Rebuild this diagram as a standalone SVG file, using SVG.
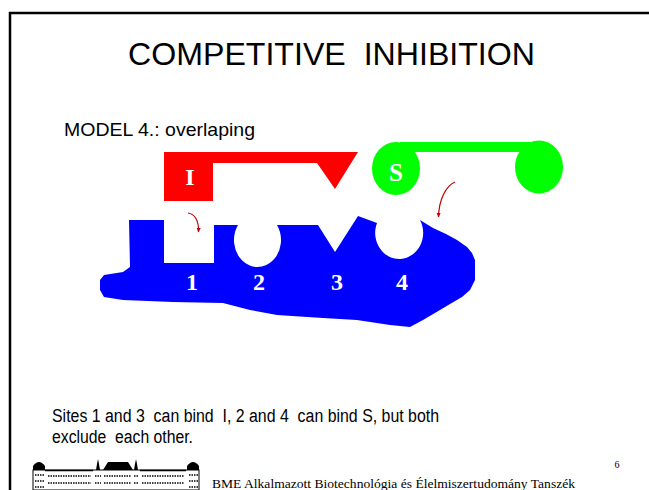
<svg xmlns="http://www.w3.org/2000/svg" width="649" height="490" viewBox="0 0 649 490">
  <defs>
    <style>
      .sans { font-family: "Liberation Sans", Arial, sans-serif; fill: #000; white-space: pre; }
      .serif { font-family: "Liberation Serif", "Times New Roman", serif; }
      .lbl { font-family: "Liberation Serif", "Times New Roman", serif; font-weight: bold; fill: #fff; text-anchor: middle; }
      .hint { fill: none; stroke: #c00000; stroke-width: 1.2; marker-end: url(#tip); }
      .frame { stroke: #000; stroke-width: 2.5; fill: none; }
      .bld { fill: #fff; stroke: #000; stroke-width: 1; }
      .win { stroke: #000; stroke-width: 1.6; stroke-dasharray: 1.5 1; fill: none; }
    </style>
    <marker id="tip" viewBox="0 0 10 10" refX="8" refY="5" markerWidth="5" markerHeight="5" orient="auto" markerUnits="userSpaceOnUse">
      <path d="M0,1 L9,5 L0,9 Z" fill="#c00000"/>
    </marker>
  </defs>

  <rect width="649" height="490" fill="#fff"/>

  <!-- slide frame -->
  <path class="frame" d="M10,490 L10,13 L649,13"/>

  <!-- headings -->
  <text class="sans" xml:space="preserve" x="331.5" y="64.5" font-size="31" text-anchor="middle" textLength="407" lengthAdjust="spacingAndGlyphs">COMPETITIVE  INHIBITION</text>
  <text class="sans" x="64" y="135.5" font-size="18.5" textLength="191" lengthAdjust="spacingAndGlyphs">MODEL 4.: overlaping</text>

  <!-- enzyme with four binding sites -->
  <g id="enzyme">
    <path fill="#0000ff" d="M129,220 L164,220 L164,263 L214,263 L214,225 L238,225 A23.5,27 0 1 0 277,225 L318,225 L335,252 L358,216 L377,223 A24,26 0 1 0 420,220 L433,228 L446,234 L457,240 L467,247 L472,253 L475,260 L475,280 L470,290 L462,297 L450,304 L440,310 L423,320 L410,327 L390,325 L357,320 L323,318 L277,315 L250,310 L223,303 L173,302 L123,300 L104,297 L100,290 L100,280 L104,275 L123,272 L130,267 Z"/>
    <text class="lbl" x="192" y="290" font-size="24">1</text>
    <text class="lbl" x="259" y="290" font-size="24">2</text>
    <text class="lbl" x="337" y="290" font-size="24">3</text>
    <text class="lbl" x="402" y="290" font-size="24">4</text>
  </g>

  <!-- inhibitor -->
  <g id="inhibitor">
    <path fill="#ff0000" d="M164,152 L358,152 L335,189 L317,163 L213,163 L213,201 L164,201 Z"/>
    <text class="lbl" x="190" y="185" font-size="24">I</text>
  </g>

  <!-- substrate -->
  <g id="substrate">
    <rect x="400" y="142" width="136" height="10" fill="#00ff00"/>
    <ellipse cx="396" cy="168.5" rx="24" ry="26.5" fill="#00ff00"/>
    <ellipse cx="539" cy="167" rx="24" ry="26.5" fill="#00ff00"/>
    <text class="lbl" x="396" y="181" font-size="25">S</text>
  </g>

  <!-- binding hints -->
  <g id="connectors">
    <path class="hint" d="M188,213 C195,214 199,221 198.5,232"/>
    <path class="hint" d="M455,182 C446,186 439,199 438.5,217"/>
  </g>

  <!-- caption -->
  <text class="sans" xml:space="preserve" x="52" y="421.5" font-size="18" textLength="387" lengthAdjust="spacingAndGlyphs">Sites 1 and 3  can bind  I, 2 and 4  can bind S, but both</text>
  <text class="sans" xml:space="preserve" x="52" y="442.5" font-size="18" textLength="141" lengthAdjust="spacingAndGlyphs">exclude  each other.</text>

  <!-- footer: university building emblem -->
  <g id="emblem">
    <rect class="bld" x="33" y="470" width="166" height="20"/>
    <path d="M33,470 L33,466 Q39,458 45,466 L45,470 Z" fill="#000"/>
    <path d="M187,470 L187,466 Q193,458 199,466 L199,470 Z" fill="#000"/>
    <path d="M103,470 L108,462 L128,462 L133,470 Z" fill="#000"/>
    <path d="M96,470 L97,464 L98,459 L99,464 L100,470 Z" fill="#000"/>
    <path d="M134,470 L135,464 L136,459 L137,464 L138,470 Z" fill="#000"/>
    <line x1="45" y1="470.5" x2="93" y2="470.5" stroke="#000" stroke-width="1.5"/>
    <line x1="140" y1="470.5" x2="186" y2="470.5" stroke="#000" stroke-width="1.5"/>
    <path class="win" d="M35,475 H44 M35,481 H44 M35,487 H44"/>
    <path class="win" d="M48,476 H91 M48,483 H91"/>
    <path class="win" d="M95,476 H101 M95,483 H101 M134,476 H139 M134,483 H139"/>
    <path class="win" d="M104,476 H131 M104,483 H131"/>
    <path class="win" d="M142,476 H184 M142,483 H184"/>
    <path class="win" d="M189,475 H198 M189,481 H198 M189,487 H198"/>
  </g>
  <text class="serif" x="212" y="488" font-size="13.5" fill="#000" textLength="363" lengthAdjust="spacingAndGlyphs">BME Alkalmazott Biotechnológia és Élelmiszertudomány Tanszék</text>
  <text class="serif" x="617" y="468" font-size="10" fill="#000" text-anchor="middle">6</text>
</svg>
